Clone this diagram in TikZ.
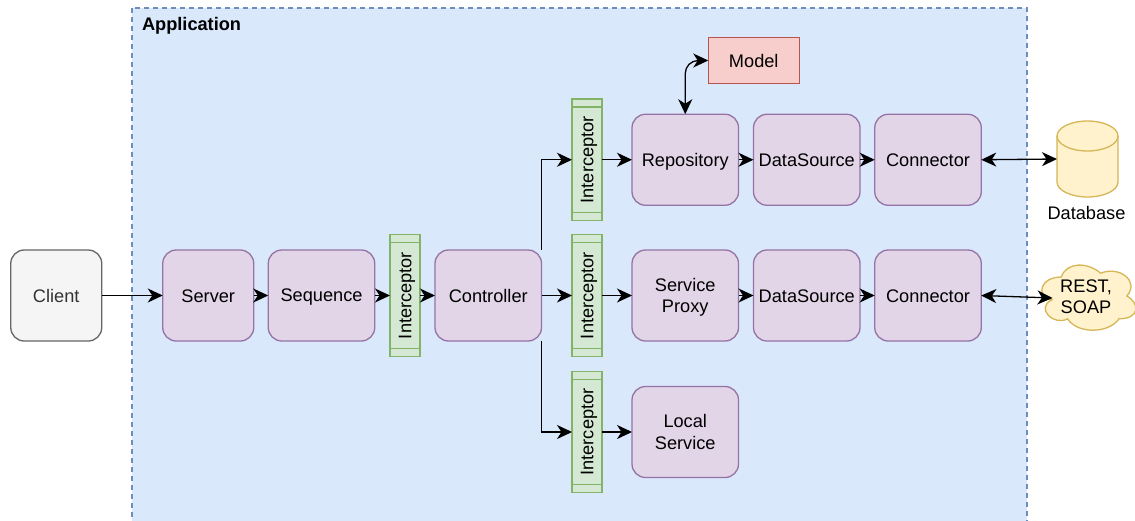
\documentclass[tikz,border=0pt]{standalone}
\usepackage{fontspec}
\setmainfont{Liberation Sans}
\usetikzlibrary{arrows.meta,calc}
\newcommand{\ts}{\rule[-3.5pt]{0pt}{20pt}}
\tikzset{
  x=1pt,y=-1pt,
  every node/.style={font=\fontsize{18.2}{21.5}\selectfont,align=center,inner sep=0pt,outer sep=0pt},
  purplebox/.style={draw=purpleline,fill=purplefill,rounded corners=13.5pt,line width=1.3pt,minimum height=91pt},
  smallbox/.style={purplebox,minimum width=91pt},
  widebox/.style={purplebox,minimum width=106.5pt},
  clientbox/.style={draw=grayline,fill=grayfill,text=graytext,rounded corners=13.5pt,line width=1.3pt,minimum width=91pt,minimum height=91pt},
  modelbox/.style={draw=redline,fill=redfill,line width=1.3pt,minimum width=91pt,minimum height=45.5pt},
  interbox/.style={draw=greenline,fill=greenfill,line width=1.3pt,minimum width=30pt,minimum height=121.5pt},
  interline/.style={draw=greenline,line width=1.3pt},
  conn/.style={draw=black,line width=1.3pt,-{Stealth[length=15pt,width=14pt,inset=4.5pt]}},
  conn2/.style={draw=black,line width=1.3pt,{Stealth[length=15pt,width=14pt,inset=4.5pt]}-{Stealth[length=15pt,width=14pt,inset=4.5pt]}},
  yellowshape/.style={draw=yellowline,fill=yellowfill,line width=1.3pt},
}
\definecolor{purpleline}{HTML}{9673A6}\definecolor{purplefill}{HTML}{E1D5E7}
\definecolor{grayline}{HTML}{666666}\definecolor{grayfill}{HTML}{F5F5F5}\definecolor{graytext}{HTML}{333333}
\definecolor{redline}{HTML}{B85450}\definecolor{redfill}{HTML}{F8CECC}
\definecolor{greenline}{HTML}{82B366}\definecolor{greenfill}{HTML}{D5E8D4}
\definecolor{blueline}{HTML}{6C8EBF}\definecolor{bluefill}{HTML}{DAE8FC}
\definecolor{yellowline}{HTML}{D6B656}\definecolor{yellowfill}{HTML}{FFF2CC}
\newcommand{\interceptor}[3]{%
  \node[interbox] (#1) at (#2,#3) {};
  \node[rotate=90] (#1label) at (#2,#3) {\ts Interceptor};
  \draw[interline] ($(#1.north west)+(0,8)$) -- ($(#1.north east)+(0,8)$);
  \draw[interline] ($(#1.south west)+(0,-8)$) -- ($(#1.south east)+(0,-8)$);
}
\begin{document}
\begin{tikzpicture}
\useasboundingbox (0,0) rectangle (1135,520);
\begin{scope}
\clip (0,0) rectangle (1135,520);
\draw[draw=blueline,fill=bluefill,dash pattern=on 5pt off 4pt,line width=1.3pt] (132,8) rectangle (1027,530);
\end{scope}
\node[anchor=base west,font=\fontsize{18.2}{19}\selectfont\bfseries] (apptitle) at (142,30) {Application};

\node[clientbox] (client) at (56.25,295.5) {\ts Client};
\node[smallbox] (server) at (208.25,295.5) {\ts Server};
\node[widebox] (sequence) at (321.5,295.5) {\ts Sequence};
\interceptor{i1}{405}{295.5}
\node[widebox] (controller) at (488.25,295.5) {\ts Controller};
\interceptor{i2}{587}{159.75}
\interceptor{i3}{587}{295.5}
\interceptor{i4}{587}{432}
\node[widebox] (repo) at (685.25,159.75) {\ts Repository};
\node[widebox] (ds1) at (806.75,159.75) {\ts DataSource};
\node[widebox] (conn1) at (928,159.75) {\ts Connector};
\node[widebox] (proxy) at (685.25,295.5) {\ts Service\\\ts Proxy};
\node[widebox] (ds2) at (806.75,295.5) {\ts DataSource};
\node[widebox] (conn2b) at (928,295.5) {\ts Connector};
\node[widebox] (local) at (685.25,432) {\ts Local\\\ts Service};
\node[modelbox] (model) at (753.75,60.5) {\ts Model};

% database
\node[minimum width=61pt,minimum height=76pt] (db) at (1087.5,159) {};
\draw[yellowshape] (1057,136) arc[start angle=180,end angle=360,x radius=30.5,y radius=15]
  -- (1118,182) arc[start angle=0,end angle=180,x radius=30.5,y radius=15] -- cycle;
\draw[yellowshape,fill=none] (1057,136) arc[start angle=180,end angle=0,x radius=30.5,y radius=15];
\node (dblabel) at (1086.5,212.5) {\ts Database};

% cloud
\coordinate (cloudleft) at (1052.5,298);
\begin{scope}
\clip (0,0) rectangle (1135,520);
\draw[yellowshape,shift={(1035,258)},x=105pt,y=-76pt]
  (.25,.25) .. controls (.05,.25) and (0,.5) .. (.16,.55)
  .. controls (0,.66) and (.18,.9) .. (.31,.8)
  .. controls (.4,1) and (.7,1) .. (.8,.8)
  .. controls (1,.8) and (1,.6) .. (.875,.5)
  .. controls (1,.3) and (.8,.1) .. (.625,.2)
  .. controls (.5,.05) and (.3,.05) .. (.25,.25) -- cycle;
\end{scope}
\node (cloudlabel) at (1086,296.5) {\ts REST,\\\ts SOAP};

\coordinate (ctop) at ($(controller.east)+(0,-45.5)$);
\coordinate (cbot) at ($(controller.east)+(0,45.5)$);
\draw[conn] (client.east) -- (server.west);
\draw[conn] (server.east) -- (sequence.west);
\draw[conn] (sequence.east) -- (i1.west);
\draw[conn] (i1.east) -- (controller.west);
\draw[conn] (ctop) |- (i2.west);
\draw[conn] (controller.east) -- (i3.west);
\draw[conn] (cbot) |- (i4.west);
\draw[conn] (i2.east) -- (repo.west);
\draw[conn] (i3.east) -- (proxy.west);
\draw[conn] (i4.east) -- (local.west);
\draw[conn] (repo.east) -- (ds1.west);
\draw[conn] (ds1.east) -- (conn1.west);
\draw[conn] (proxy.east) -- (ds2.west);
\draw[conn] (ds2.east) -- (conn2b.west);
\draw[conn2] (conn1.east) -- (db.west);
\draw[conn2] (conn2b.east) -- (cloudleft);
\draw[conn2,rounded corners=13pt] (repo.north) |- (model.west);
\end{tikzpicture}
\end{document}
